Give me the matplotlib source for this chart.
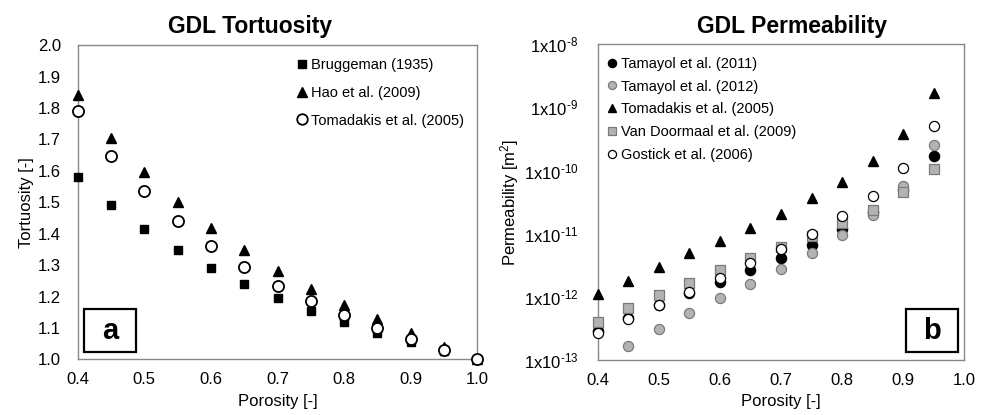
import numpy as np
import matplotlib
matplotlib.use("Agg")
import matplotlib.pyplot as plt
from matplotlib.patches import Rectangle

plt.rcParams['font.family'] = ['Liberation Sans', 'DejaVu Sans']
plt.rcParams['mathtext.fontset'] = 'custom'
plt.rcParams['mathtext.rm'] = 'Liberation Sans'
plt.rcParams['mathtext.it'] = 'Liberation Sans'
plt.rcParams['mathtext.bf'] = 'Liberation Sans:bold'

# ---------------- data: tortuosity ----------------
por_t = [0.40, 0.45, 0.50, 0.55, 0.60, 0.65, 0.70, 0.75, 0.80, 0.85, 0.90, 0.95, 1.00]
bruggeman = [1.581, 1.491, 1.414, 1.348, 1.291, 1.240, 1.195, 1.155, 1.118, 1.085, 1.054, 1.026, 1.000]
hao = [1.841, 1.705, 1.595, 1.501, 1.417, 1.348, 1.282, 1.225, 1.173, 1.127, 1.083, 1.040, 1.000]
tomadakis_t = [1.792, 1.648, 1.535, 1.441, 1.361, 1.295, 1.235, 1.186, 1.140, 1.100, 1.064, 1.030, 1.000]

# ---------------- data: permeability ----------------
por_k = [0.40, 0.45, 0.50, 0.55, 0.60, 0.65, 0.70, 0.75, 0.80, 0.85, 0.90, 0.95]
tamayol2011 = [2.9e-13, 4.7e-13, 7.4e-13, 1.14e-12, 1.73e-12, 2.65e-12, 4.06e-12, 6.6e-12, 1.2e-11, 2.2e-11, 5.0e-11, 1.7e-10]
por_k12 = [0.45, 0.50, 0.55, 0.60, 0.65, 0.70, 0.75, 0.80, 0.85, 0.90, 0.95]
tamayol2012 = [1.67e-13, 3.1e-13, 5.5e-13, 9.5e-13, 1.62e-12, 2.8e-12, 5.0e-12, 9.4e-12, 1.98e-11, 5.7e-11, 2.55e-10]
tomadakis_k = [1.11e-12, 1.78e-12, 3.0e-12, 4.9e-12, 7.8e-12, 1.25e-11, 2.05e-11, 3.64e-11, 6.7e-11, 1.39e-10, 3.75e-10, 1.67e-9]
vandoormaal = [3.95e-13, 6.6e-13, 1.07e-12, 1.68e-12, 2.67e-12, 4.07e-12, 6.2e-12, 9.2e-12, 1.5e-11, 2.38e-11, 4.5e-11, 1.06e-10]
gostick = [2.64e-13, 4.4e-13, 7.4e-13, 1.21e-12, 2.0e-12, 3.4e-12, 5.7e-12, 9.8e-12, 1.9e-11, 4.0e-11, 1.09e-10, 5.15e-10]

xticks = [0.4, 0.5, 0.6, 0.7, 0.8, 0.9, 1.0]
yticks_t = [1.0, 1.1, 1.2, 1.3, 1.4, 1.5, 1.6, 1.7, 1.8, 1.9, 2.0]
yexp_k = [-13, -12, -11, -10, -9, -8]

GRAY = '#b3b3b3'
GEDGE = '#7a7a7a'
SPINE = '#888888'
TICKFS = 12
HYPHEN = '\u2010'

fig = plt.figure(figsize=(9.87, 4.15), dpi=100)
ax1 = fig.add_axes([0.0787, 0.134, 0.405, 0.757])
ax2 = fig.add_axes([0.6056, 0.1325, 0.3714, 0.761])

for ax in (ax1, ax2):
    for s in ax.spines.values():
        s.set_color(SPINE)
        s.set_linewidth(1.0)
    ax.tick_params(length=0, labelsize=TICKFS, colors='black')
    ax.set_xlim(0.4, 1.0)
    ax.set_xticks(xticks)
    ax.set_xticklabels(['%.1f' % v for v in xticks])
    ax.tick_params(axis='x', pad=9)

# ---- left panel ----
ax1.tick_params(axis='y', pad=12)
ax1.set_ylim(1.0, 2.0)
ax1.set_yticks(yticks_t)
ax1.set_yticklabels(['%.1f' % v for v in yticks_t])
ax1.plot(por_t, bruggeman, 's', ms=6.3, mfc='black', mec='black', label='Bruggeman (1935)', clip_on=False, zorder=3)
ax1.plot(por_t, hao, '^', ms=7, mfc='black', mec='black', label='Hao et al. (2009)', clip_on=False, zorder=4)
ax1.plot(por_t, tomadakis_t, 'o', ms=8, mfc='white', mec='black', mew=1.3, label='Tomadakis et al. (2005)', clip_on=False, zorder=5)
ax1.legend(loc='upper left', bbox_to_anchor=(0.548, 0.96), frameon=False, fontsize=10.5,
           handlelength=0.7, handletextpad=0.25, labelspacing=0.95, borderpad=0, borderaxespad=0,
           markerscale=0.95)
ax1.add_patch(Rectangle((0.016, 0.023), 0.13, 0.136, transform=ax1.transAxes, fill=False,
                        ec='black', lw=1.6, zorder=6, clip_on=False))
ax1.text(0.081, 0.091, 'a', transform=ax1.transAxes, ha='center', va='center',
         fontsize=21, fontweight='bold', zorder=7)
ax1.set_xlabel('Porosity [-]', fontsize=12, labelpad=5)
ax1.set_ylabel('Tortuosity [-]', fontsize=12, labelpad=3)
fig.text(250 / 987, 1 - 33.3 / 415, 'GDL Tortuosity', ha='center', va='baseline',
         fontsize=16.5, fontweight='bold')

# ---- right panel ----
ax2.tick_params(axis='y', pad=14)
ax2.set_yscale('log')
ax2.set_ylim(1e-13, 1e-8)
ax2.set_yticks([10.0 ** e for e in yexp_k])
ax2.set_yticklabels(['1x10$^{' + HYPHEN + str(-e) + '}$' for e in yexp_k])
ax2.minorticks_off()
ax2.plot(por_k, tamayol2011, 'o', ms=7.3, mfc='black', mec='black', label='Tamayol et al. (2011)', clip_on=False, zorder=3)
ax2.plot(por_k12, tamayol2012, 'o', ms=7.3, mfc=GRAY, mec=GEDGE, mew=0.9, label='Tamayol et al. (2012)', clip_on=False, zorder=3.5)
ax2.plot(por_k, tomadakis_k, '^', ms=7, mfc='black', mec='black', label='Tomadakis et al. (2005)', clip_on=False, zorder=4)
ax2.plot(por_k, vandoormaal, 's', ms=7.8, mfc=GRAY, mec=GEDGE, mew=0.9, label='Van Doormaal et al. (2009)', clip_on=False, zorder=4.5)
ax2.plot(por_k, gostick, 'o', ms=7.3, mfc='white', mec='black', mew=0.9, label='Gostick et al. (2006)', clip_on=False, zorder=5)
ax2.legend(loc='upper left', bbox_to_anchor=(0.025, 0.96), frameon=False, fontsize=10.5,
           handlelength=0.7, handletextpad=0.25, labelspacing=0.6, borderpad=0, borderaxespad=0,
           markerscale=0.8)
ax2.add_patch(Rectangle((0.842, 0.025), 0.141, 0.136, transform=ax2.transAxes, fill=False,
                        ec='black', lw=1.6, zorder=6, clip_on=False))
ax2.text(0.9125, 0.093, 'b', transform=ax2.transAxes, ha='center', va='center',
         fontsize=21, fontweight='bold', zorder=7)
ax2.set_xlabel('Porosity [-]', fontsize=12, labelpad=5)
ax2.set_ylabel(r'Permeability [m$^{2}$]', fontsize=12, labelpad=2)
fig.text(792 / 987, 1 - 33.3 / 415, 'GDL Permeability', ha='center', va='baseline',
         fontsize=16.5, fontweight='bold')

fig.savefig('out.png', dpi=100)
